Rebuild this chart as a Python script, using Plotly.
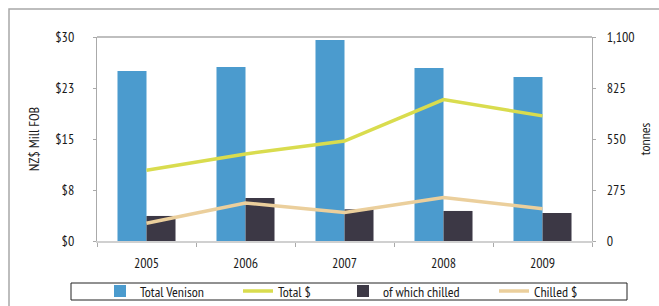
import plotly.graph_objects as go

years = ["2005", "2006", "2007", "2008", "2009"]
total_venison_t = [917, 938, 1084, 933, 884]
chilled_t = [135, 232, 171, 162, 151]
total_usd = [10.4, 12.8, 14.7, 20.8, 18.4]
chilled_usd = [2.6, 5.6, 4.2, 6.4, 4.75]

left_tickvals = [0, 7.5, 15, 22.5, 30]
left_ticktext = ["$0", "$8", "$15", "$23", "$30"]
right_tickvals = [0, 275, 550, 825, 1100]
right_ticktext = ["0", "275", "550", "825", "1,100"]

W, H = 659, 306
L, R, T, B = 97, 592, 37, 241
FONT = "PT Sans Narrow, Roboto Condensed, Liberation Sans Narrow, sans-serif"


def px(x):
    return (x - L) / (R - L)


def py(y):
    return (B - y) / (B - T)


fig = go.Figure()
fig.add_trace(go.Bar(x=years, y=total_venison_t, name="Total Venison",
                     marker=dict(color="#4B9BCE", line=dict(width=0)),
                     yaxis="y", legend="legend2"))
fig.add_trace(go.Bar(x=years, y=chilled_t, name="of which chilled",
                     marker=dict(color="#3C3845", line=dict(width=0)),
                     yaxis="y", legend="legend4"))
fig.add_trace(go.Scatter(x=years, y=total_usd, name="Total $", mode="lines",
                         line=dict(color="#D9DC4E", width=3.5),
                         yaxis="y2", legend="legend3"))
fig.add_trace(go.Scatter(x=years, y=chilled_usd, name="Chilled $", mode="lines",
                         line=dict(color="#EBCF9C", width=3.5),
                         yaxis="y2", legend="legend5"))

legend_common = dict(orientation="h", yanchor="middle", xanchor="left",
                     y=py(291.5), bgcolor="rgba(0,0,0,0)", borderwidth=0,
                     font=dict(size=14, color="#1a1a1a", family=FONT),
                     itemwidth=30)

fig.update_layout(
    width=W, height=H,
    margin=dict(l=L, r=W - R, t=T, b=H - B, pad=0, autoexpand=False),
    paper_bgcolor="white", plot_bgcolor="white",
    font=dict(family=FONT, size=14, color="#1a1a1a"),
    barmode="group", bargap=0.414, bargroupgap=0,
    showlegend=True,
    xaxis=dict(showline=True, linecolor="#d0d0d0", linewidth=2,
               ticks="outside", ticklen=4, tickcolor="#aaaaaa",
               tickson="boundaries", showgrid=False, ticklabelstandoff=8,
               tickfont=dict(size=14), automargin=False),
    yaxis=dict(side="right", range=[0, 1100], tickvals=right_tickvals,
               ticktext=right_ticktext, showline=True, linecolor="#aaaaaa",
               linewidth=1, ticks="outside", ticklen=3, tickcolor="#aaaaaa",
               showgrid=False, zeroline=False, ticklabelstandoff=8,
               automargin=False,
               title=dict(text="tonnes", standoff=6, font=dict(size=14))),
    yaxis2=dict(side="left", overlaying="y", range=[0, 30],
                tickvals=left_tickvals, ticktext=left_ticktext,
                showline=True, linecolor="#aaaaaa", linewidth=1,
                ticks="outside", ticklen=3, tickcolor="#aaaaaa",
                showgrid=False, zeroline=False, ticklabelstandoff=16,
                automargin=False,
                title=dict(text="NZ$ Mill FOB", standoff=12, font=dict(size=14))),
    legend2=dict(legend_common, x=px(100)),
    legend3=dict(legend_common, x=px(238)),
    legend4=dict(legend_common, x=px(343)),
    legend5=dict(legend_common, x=px(494)),
    shapes=[
        dict(type="rect", xref="paper", yref="paper",
             x0=px(9), x1=px(700), y0=py(340), y1=py(9),
             line=dict(color="#a8a8a8", width=1.5), layer="below"),
        dict(type="line", xref="paper", yref="paper",
             x0=0, x1=1, y0=1, y1=1,
             line=dict(color="#aaaaaa", width=1.5)),
        dict(type="rect", xref="paper", yref="paper",
             x0=px(71), x1=px(627), y0=py(300), y1=py(283),
             line=dict(color="#222222", width=1)),
    ],
)

fig.write_html("out.html",
               config={"displayModeBar": False},
               post_script="document.body.style.margin='0px';document.body.style.overflow='hidden';")
